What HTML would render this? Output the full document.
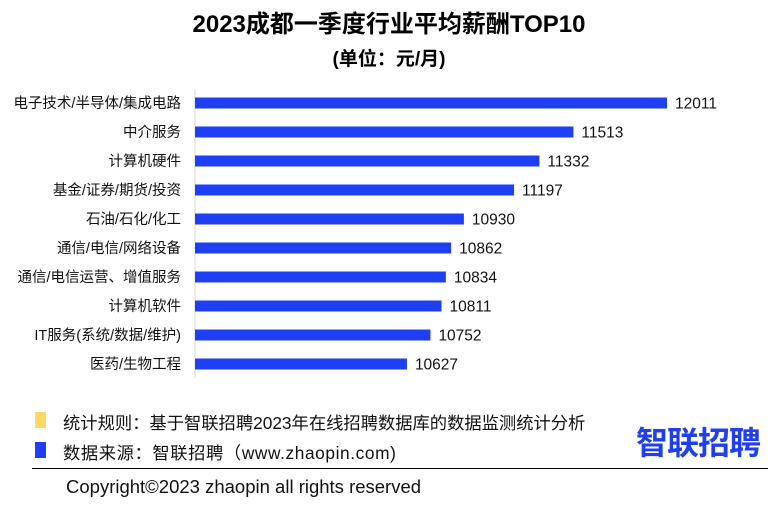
<!DOCTYPE html>
<html><head><meta charset="utf-8"><style>
body{margin:0;width:778px;height:514px;background:#fff;overflow:hidden;font-family:"Liberation Sans","Noto Sans CJK SC",sans-serif;position:relative}
.t{position:absolute;white-space:nowrap}
</style></head><body>
<div class="t" style="left:0;width:778px;text-align:center;top:4px;font-size:24px;font-weight:bold;color:#000">2023成都一季度行业平均薪酬TOP10</div>
<div class="t" style="left:0;width:778px;text-align:center;top:44px;font-size:19px;font-weight:bold;color:#000">(单位：元/月)</div>
<svg id="chart" width="778" height="400" style="position:absolute;left:0;top:0"></svg>
<div style="position:absolute;left:35px;top:412px;width:11px;height:16px;background:#ffd966"></div>
<div class="t" style="left:63px;top:409px;font-size:17.3px;color:#111">统计规则：基于智联招聘2023年在线招聘数据库的数据监测统计分析</div>
<div style="position:absolute;left:35px;top:442px;width:11px;height:16px;background:#1f3ff5"></div>
<div class="t" style="left:63px;top:439px;font-size:17.3px;color:#111;letter-spacing:0.6px">数据来源：智联招聘（www.zhaopin.com)</div>
<div class="t" style="left:636px;top:418px;font-size:32px;font-weight:bold;color:#1f3ff5;letter-spacing:-1px">智联招聘</div>
<div style="position:absolute;left:32px;top:468px;width:736px;height:1px;background:#000"></div>
<div class="t" style="left:66px;top:476px;font-size:18.5px;color:#111">Copyright©2023 zhaopin all rights reserved</div>
<script>
const categories=["电子技术/半导体/集成电路","中介服务","计算机硬件","基金/证券/期货/投资","石油/石化/化工","通信/电信/网络设备","通信/电信运营、增值服务","计算机软件","IT服务(系统/数据/维护)","医药/生物工程"];
const values=[12011,11513,11332,11197,10930,10862,10834,10811,10752,10627];
const svg=document.getElementById('chart');
const NS='http://www.w3.org/2000/svg';
const x0=195,vMin=9499,k=0.1879;
const xs=v=>x0+(v-vMin)*k;
const ys=i=>103+i*29;
const axis=document.createElementNS(NS,'line');


axis.setAttribute('x1',x0);axis.setAttribute('x2',x0);axis.setAttribute('y1',89);axis.setAttribute('y2',378);
axis.setAttribute('stroke','#d9d9d9');svg.appendChild(axis);
categories.forEach((c,i)=>{
  const y=ys(i);
  const r=document.createElementNS(NS,'rect');
  
  
  r.setAttribute('x',x0);r.setAttribute('y',y-5.5);r.setAttribute('height',11);
  r.setAttribute('width',xs(values[i])-x0);r.setAttribute('fill','#1f3ff5');svg.appendChild(r);
  const l=document.createElementNS(NS,'text');
  
  
  l.setAttribute('x',181);l.setAttribute('y',y+5);l.setAttribute('text-anchor','end');
  l.setAttribute('font-size','14.5');l.setAttribute('fill','#111');l.textContent=c;svg.appendChild(l);
  const v=document.createElementNS(NS,'text');
  
  
  v.setAttribute('x',xs(values[i])+8);v.setAttribute('y',y+5.5);
  v.setAttribute('font-size','15.5');v.setAttribute('fill','#111');v.textContent=values[i];svg.appendChild(v);
});
</script>
</body></html>
